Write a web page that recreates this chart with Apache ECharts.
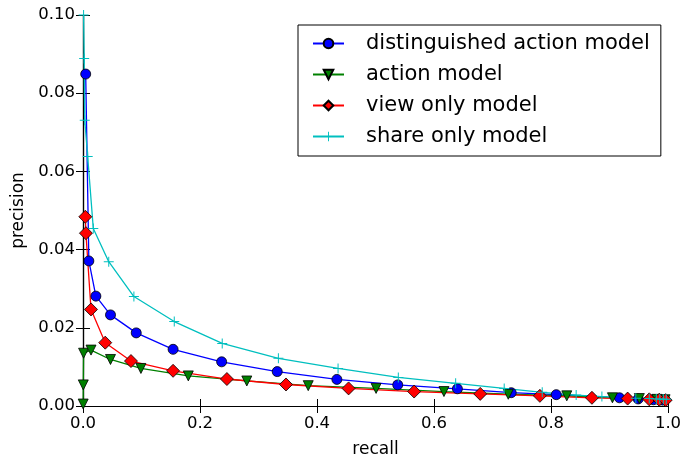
<!DOCTYPE html>
<html>
<head>
<meta charset="utf-8">
<script src="https://cdn.jsdelivr.net/npm/echarts@6/dist/echarts.min.js"></script>
<style>
  html, body { margin: 0; padding: 0; background: #fff; }
  #chart { width: 683px; height: 458px; }
</style>
</head>
<body>
<div id="chart"></div>
<script>
  var seriesNames = ['distinguished action model', 'action model', 'view only model', 'share only model'];

  // [recall, precision] pairs
  var distinguished = [
    [0.0046, 0.0849], [0.010, 0.0371], [0.022, 0.0281], [0.047, 0.0233], [0.091, 0.0187],
    [0.154, 0.0145], [0.237, 0.0113], [0.332, 0.0088], [0.434, 0.0068], [0.538, 0.0054],
    [0.640, 0.0044], [0.732, 0.0034], [0.809, 0.0029], [0.917, 0.0021], [0.949, 0.0018],
    [0.975, 0.0016], [0.991, 0.0015]
  ];
  var action = [
    [0.0003, 0.0005], [0.0005, 0.0054], [0.001, 0.0135], [0.0137, 0.0143], [0.047, 0.0119],
    [0.099, 0.0096], [0.180, 0.0077], [0.280, 0.0064], [0.385, 0.0052], [0.501, 0.0045],
    [0.617, 0.0037], [0.727, 0.0030], [0.827, 0.0026], [0.905, 0.0021], [0.951, 0.0019],
    [0.981, 0.0017], [0.995, 0.0016]
  ];
  var viewOnly = [
    [0.004, 0.0484], [0.005, 0.0442], [0.0137, 0.0247], [0.038, 0.0162], [0.082, 0.0115],
    [0.154, 0.0090], [0.246, 0.0069], [0.347, 0.0055], [0.454, 0.0045], [0.566, 0.0037],
    [0.679, 0.0031], [0.781, 0.0026], [0.870, 0.0021], [0.931, 0.0019], [0.968, 0.0017],
    [0.985, 0.0016], [0.996, 0.0015]
  ];
  var shareOnly = [
    [0.001, 0.1000], [0.002, 0.0889], [0.003, 0.0731], [0.008, 0.0638], [0.0176, 0.0454],
    [0.044, 0.0369], [0.087, 0.0280], [0.156, 0.0216], [0.238, 0.0160], [0.334, 0.0122],
    [0.436, 0.0096], [0.539, 0.0073], [0.637, 0.0058], [0.720, 0.0045], [0.785, 0.0035],
    [0.843, 0.0028], [0.887, 0.0024], [0.945, 0.0020], [0.968, 0.0019], [0.980, 0.0018],
    [0.986, 0.0018], [0.992, 0.0017], [0.997, 0.0017]
  ];

  var xTicks = ['0.0', '0.2', '0.4', '0.6', '0.8', '1.0'];
  var yTicks = ['0.00', '0.02', '0.04', '0.06', '0.08', '0.10'];

  var font = 'DejaVu Sans';
  var plusPath = 'path://M4.5,0H5.5V4.5H10V5.5H5.5V10H4.5V5.5H0V4.5H4.5Z';

  var chart = echarts.init(document.getElementById('chart'));

  function mkSeries(name, data, color, symbol, size, extra) {
    var s = {
      name: name,
      type: 'line',
      data: data,
      symbol: symbol,
      symbolSize: size,
      showAllSymbol: true,
      clip: true,
      xAxisIndex: 0,
      yAxisIndex: 0,
      lineStyle: { color: color, width: 1.3 },
      itemStyle: { color: color, borderColor: '#000', borderWidth: 0.8, opacity: 1 },
      emphasis: { disabled: true },
      animation: false
    };
    return Object.assign(s, extra || {});
  }

  chart.setOption({
    backgroundColor: '#fff',
    animation: false,
    textStyle: { fontFamily: font },
    grid: { left: 83, right: 15, top: 15, bottom: 52, containLabel: false, outerBoundsMode: 'none' },
    legend: {
      orient: 'vertical',
      left: 298,
      top: 25,
      backgroundColor: '#fff',
      borderColor: '#000',
      borderWidth: 1,
      borderRadius: 0,
      padding: [8, 11, 9, 14],
      itemGap: 10,
      itemWidth: 31,
      itemHeight: 12,
      textStyle: { fontFamily: font, fontSize: 21, color: '#000', padding: [0, 0, 0, 17] },
      data: seriesNames
    },
    xAxis: [{
      type: 'value', min: 0, max: 1, interval: 0.2,
      name: 'recall', nameLocation: 'middle', nameGap: 35,
      nameTextStyle: { fontFamily: font, fontSize: 17, color: '#000' },
      axisLine: { show: true, lineStyle: { color: '#000', width: 1.2 } },
      axisTick: { show: true, inside: true, length: 7, lineStyle: { color: '#000' } },
      axisLabel: {
        fontFamily: font, fontSize: 16.5, color: '#000', margin: 9,
        formatter: function (v) { return xTicks[Math.round(v / 0.2)]; }
      },
      splitLine: { show: false }
    }, {
      type: 'value', min: 0, max: 1, interval: 0.2, position: 'top',
      axisLine: { show: true, lineStyle: { color: '#000', width: 1.2 } },
      axisTick: { show: true, inside: true, length: 7, lineStyle: { color: '#000' } },
      axisLabel: { show: false },
      splitLine: { show: false }
    }],
    yAxis: [{
      type: 'value', min: 0, max: 0.1, interval: 0.02,
      name: 'precision', nameLocation: 'middle', nameGap: 56, nameRotate: 90,
      nameTextStyle: { fontFamily: font, fontSize: 17, color: '#000' },
      axisLine: { show: true, lineStyle: { color: '#000', width: 1.2 } },
      axisTick: { show: true, inside: true, length: 7, lineStyle: { color: '#000' } },
      axisLabel: {
        fontFamily: font, fontSize: 16.5, color: '#000', margin: 8,
        formatter: function (v) { return yTicks[Math.round(v / 0.02)]; }
      },
      splitLine: { show: false }
    }, {
      type: 'value', min: 0, max: 0.1, interval: 0.02, position: 'right',
      axisLine: { show: true, lineStyle: { color: '#000', width: 1.2 } },
      axisTick: { show: true, inside: true, length: 7, lineStyle: { color: '#000' } },
      axisLabel: { show: false },
      splitLine: { show: false }
    }],
    series: [
      mkSeries(seriesNames[0], distinguished, '#0000ff', 'circle', 10),
      mkSeries(seriesNames[1], action, '#008000', 'triangle', 10, { symbolRotate: 180 }),
      mkSeries(seriesNames[2], viewOnly, '#ff0000', 'diamond', 13),
      mkSeries(seriesNames[3], shareOnly, '#00bfbf', plusPath, 10, {
        itemStyle: { color: '#00bfbf', borderWidth: 0, opacity: 1 }
      })
    ]
  });
</script>
</body>
</html>
